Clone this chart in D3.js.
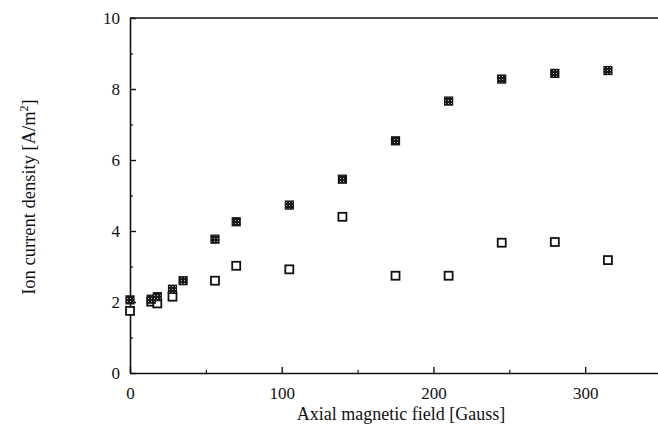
<!DOCTYPE html>
<html>
<head>
<meta charset="utf-8">
<script src="https://cdn.jsdelivr.net/npm/d3@7"></script>
<style>
  html, body { margin: 0; padding: 0; background: #fff; }
  svg { display: block; }
  svg text { font-family: "Liberation Serif", "Times New Roman", "DejaVu Serif", serif !important; fill: #111; }
</style>
</head>
<body>
<svg id="chart" width="658" height="442"></svg>
<script>
// Data
const fieldGauss = [0, 14, 18, 28, 35, 56, 70, 105, 140, 175, 210, 245, 280, 315];
const filledSeries = [2.06, 2.08, 2.15, 2.36, 2.6, 3.77, 4.26, 4.73, 5.46, 6.54, 7.66, 8.28, 8.44, 8.52];
const openField = [0, 14, 18, 28, 56, 70, 105, 140, 175, 210, 245, 280, 315];
const openSeries = [1.75, 2.01, 1.96, 2.15, 2.6, 3.02, 2.92, 4.40, 2.74, 2.74, 3.67, 3.69, 3.18];
const xMajorTicks = [0, 100, 200, 300];
const xMinorTicks = [50, 150, 250];
const yMajorTicks = [0, 2, 4, 6, 8, 10];
const yMinorTicks = [1, 3, 5, 7, 9];
const xTitle = "Axial magnetic field [Gauss]";
const yTitle = "Ion current density [A/m";

(function () {
const FONT = '"Liberation Serif", "Times New Roman", serif';
const svg = d3.select("#chart").attr("font-family", FONT);
const mLeft = 130, mRight = 658, mTop = 18, mBottom = 373;

const x = d3.scaleLinear().domain([0, 348]).range([mLeft, mRight]);
const y = d3.scaleLinear().domain([0, 10]).range([mBottom, mTop]);

// pattern for cross-hatched markers
const defs = svg.append("defs");
const pat = defs.append("pattern").attr("id", "hatch")
  .attr("patternUnits", "userSpaceOnUse").attr("width", 3).attr("height", 3);
pat.append("rect").attr("width", 3).attr("height", 3).attr("fill", "#1a1a1a");
pat.append("rect").attr("x", 1).attr("y", 1).attr("width", 1).attr("height", 1).attr("fill", "#bbb");

// axes
const xAxis = d3.axisBottom(x).tickValues(xMajorTicks).tickSizeInner(-6).tickSizeOuter(0).tickPadding(14);
const gx = svg.append("g").attr("transform", `translate(0,${mBottom})`).call(xAxis)
  .attr("font-family", FONT).attr("font-size", 17);
gx.select(".domain").attr("stroke", "#111").attr("stroke-width", 1.6);
gx.selectAll(".tick line").attr("stroke", "#111").attr("stroke-width", 1.4);
gx.selectAll(".tick text").attr("fill", "#111");

const gxm = svg.append("g").attr("transform", `translate(0,${mBottom})`)
  .call(d3.axisBottom(x).tickValues(xMinorTicks).tickSizeInner(-3).tickSizeOuter(0).tickFormat(""));
gxm.select(".domain").remove();
gxm.selectAll(".tick line").attr("stroke", "#111").attr("stroke-width", 1.2);

const yAxis = d3.axisLeft(y).tickValues(yMajorTicks).tickSizeInner(-6).tickSizeOuter(0).tickPadding(10);
const gy = svg.append("g").attr("transform", `translate(${mLeft},0)`).call(yAxis)
  .attr("font-family", FONT).attr("font-size", 17);
gy.select(".domain").attr("stroke", "#111").attr("stroke-width", 1.6);
gy.selectAll(".tick line").attr("stroke", "#111").attr("stroke-width", 1.4);
gy.selectAll(".tick text").attr("fill", "#111");

const gym = svg.append("g").attr("transform", `translate(${mLeft},0)`)
  .call(d3.axisLeft(y).tickValues(yMinorTicks).tickSizeInner(-3).tickSizeOuter(0).tickFormat(""));
gym.select(".domain").remove();
gym.selectAll(".tick line").attr("stroke", "#111").attr("stroke-width", 1.2);

// top frame line
svg.append("line").attr("x1", mLeft).attr("x2", mRight).attr("y1", y(10)).attr("y2", y(10))
  .attr("stroke", "#111").attr("stroke-width", 1.6);

// markers
const s = 8;
svg.append("g").selectAll("rect").data(openSeries).join("rect")
  .attr("x", (d, i) => x(openField[i]) - s / 2)
  .attr("y", d => y(d) - s / 2)
  .attr("width", s).attr("height", s)
  .attr("fill", "#fff").attr("stroke", "#111").attr("stroke-width", 1.8);

svg.append("g").selectAll("rect").data(filledSeries).join("rect")
  .attr("x", (d, i) => x(fieldGauss[i]) - s / 2)
  .attr("y", d => y(d) - s / 2)
  .attr("width", s).attr("height", s)
  .attr("fill", "url(#hatch)").attr("stroke", "#111").attr("stroke-width", 1.2);

// titles
svg.append("text").attr("x", 401).attr("y", 420).attr("text-anchor", "middle")
  .attr("font-size", 18).text(xTitle);

const yt = svg.append("text").attr("transform", `translate(35,197) rotate(-90)`)
  .attr("text-anchor", "middle").attr("font-size", 18.5);
yt.append("tspan").text(yTitle);
yt.append("tspan").attr("font-size", 12).attr("dy", -7).text("2");
yt.append("tspan").attr("dy", 7).text("]");
})();
</script>
</body>
</html>
